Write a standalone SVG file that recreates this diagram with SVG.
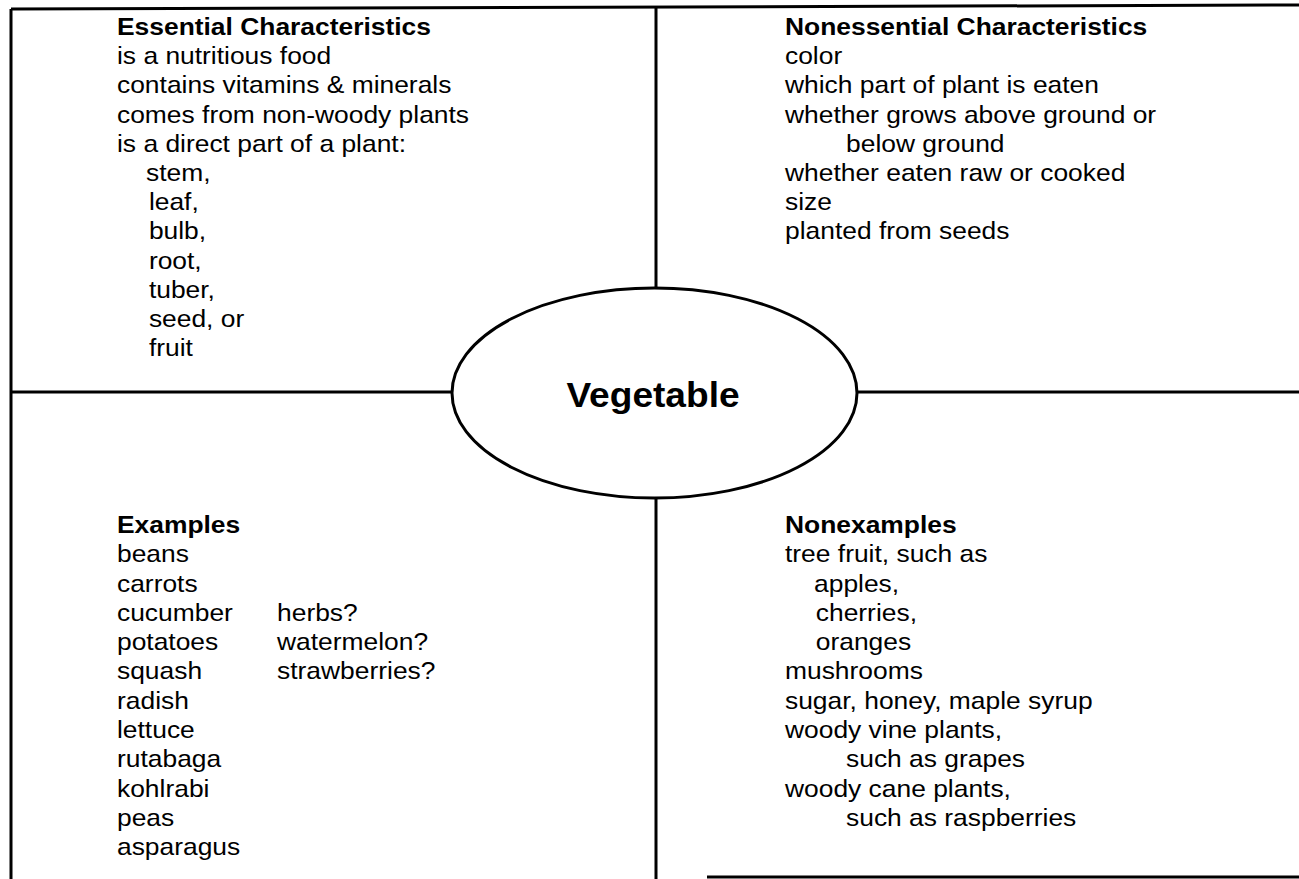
<svg xmlns="http://www.w3.org/2000/svg" width="1299" height="879" viewBox="0 0 1299 879">
<style>
.t{font-family:"Liberation Sans",Arial,Helvetica,sans-serif;font-size:24px;fill:#000}
.b{font-weight:bold}
.ln{stroke:#000;stroke-width:3;fill:none;stroke-linecap:butt}
</style>
<rect width="1299" height="879" fill="#fff"/>
<g id="connectors">
<path class="ln" d="M11,9 L1299,5"/>
<path class="ln" d="M11,9 L11,879"/>
<path class="ln" d="M707,877 L1299,877"/>
<path class="ln" d="M656,7 L656,288"/>
<path class="ln" d="M656,498 L656,879"/>
<path class="ln" d="M11,392 L452,392"/>
<path class="ln" d="M857,392 L1299,392"/>
</g>
<g id="center">
<ellipse cx="654.5" cy="393" rx="202.5" ry="105" fill="#fff" stroke="#000" stroke-width="3"/>
<g transform="translate(653,407) scale(1.06,1)">
<text class="t b" x="0" y="0" text-anchor="middle" style="font-size:35px">Vegetable</text>
</g>
</g>
<g id="essential" transform="translate(117,0) scale(1.1,1)">
<text class="t b" x="0" y="35">Essential Characteristics</text>
<text class="t" x="0" y="64.2">is a nutritious food</text>
<text class="t" x="0" y="93.4">contains vitamins &amp; minerals</text>
<text class="t" x="0" y="122.6">comes from non-woody plants</text>
<text class="t" x="0" y="151.8">is a direct part of a plant:</text>
<text class="t" x="26.4" y="181">stem,</text>
<text class="t" x="29" y="210.2">leaf,</text>
<text class="t" x="29" y="239.4">bulb,</text>
<text class="t" x="29" y="268.6">root,</text>
<text class="t" x="29" y="297.8">tuber,</text>
<text class="t" x="29" y="327">seed, or</text>
<text class="t" x="29" y="356.2">fruit</text>
</g>
<g id="nonessential" transform="translate(785,0) scale(1.1,1)">
<text class="t b" x="0" y="35">Nonessential Characteristics</text>
<text class="t" x="0" y="64.2">color</text>
<text class="t" x="0" y="93.4">which part of plant is eaten</text>
<text class="t" x="0" y="122.6">whether grows above ground or</text>
<text class="t" x="55.5" y="151.8">below ground</text>
<text class="t" x="0" y="181">whether eaten raw or cooked</text>
<text class="t" x="0" y="210.2">size</text>
<text class="t" x="0" y="239.4">planted from seeds</text>
</g>
<g id="examples" transform="translate(117,0) scale(1.1,1)">
<text class="t b" x="0" y="533">Examples</text>
<text class="t" x="0" y="562.3">beans</text>
<text class="t" x="0" y="591.6">carrots</text>
<text class="t" x="0" y="620.9">cucumber</text>
<text class="t" x="0" y="650.2">potatoes</text>
<text class="t" x="0" y="679.5">squash</text>
<text class="t" x="0" y="708.8">radish</text>
<text class="t" x="0" y="738.1">lettuce</text>
<text class="t" x="0" y="767.4">rutabaga</text>
<text class="t" x="0" y="796.7">kohlrabi</text>
<text class="t" x="0" y="826">peas</text>
<text class="t" x="0" y="855.3">asparagus</text>
<text class="t" x="145.5" y="620.9">herbs?</text>
<text class="t" x="145.5" y="650.2">watermelon?</text>
<text class="t" x="145.5" y="679.5">strawberries?</text>
</g>
<g id="nonexamples" transform="translate(785,0) scale(1.1,1)">
<text class="t b" x="0" y="533">Nonexamples</text>
<text class="t" x="0" y="562.3">tree fruit, such as</text>
<text class="t" x="26.4" y="591.6">apples,</text>
<text class="t" x="28" y="620.9">cherries,</text>
<text class="t" x="28" y="650.2">oranges</text>
<text class="t" x="0" y="679.5">mushrooms</text>
<text class="t" x="0" y="708.8">sugar, honey, maple syrup</text>
<text class="t" x="0" y="738.1">woody vine plants,</text>
<text class="t" x="55.5" y="767.4">such as grapes</text>
<text class="t" x="0" y="796.7">woody cane plants,</text>
<text class="t" x="55.5" y="826">such as raspberries</text>
</g>
</svg>
